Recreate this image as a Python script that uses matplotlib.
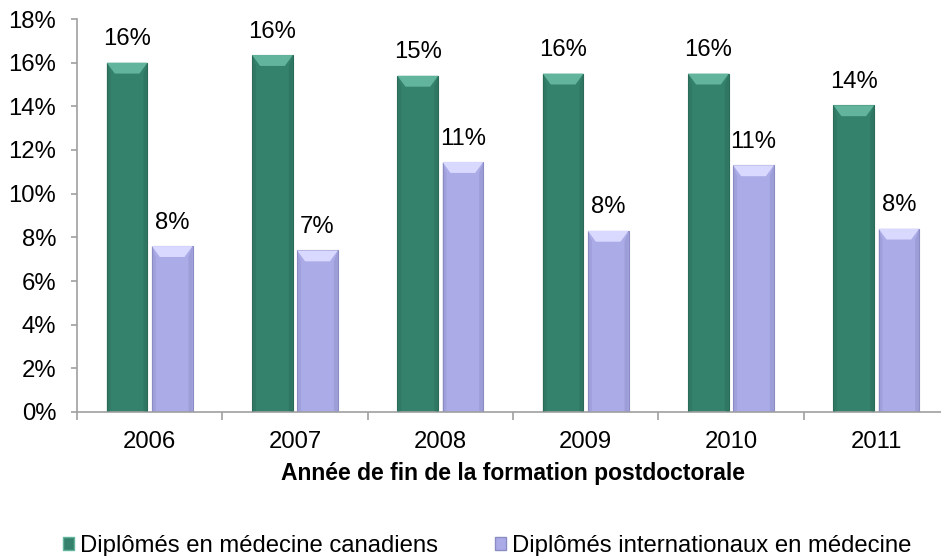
import numpy as np
import matplotlib.pyplot as plt
from matplotlib.patches import Polygon, Patch
from matplotlib.ticker import FuncFormatter

plt.rcParams["font.family"] = ["Liberation Sans", "DejaVu Sans"]

years = ["2006", "2007", "2008", "2009", "2010", "2011"]
canadiens = [16.0, 16.35, 15.4, 15.5, 15.5, 14.05]
internationaux = [7.6, 7.4, 11.45, 8.3, 11.3, 8.4]
series_names = ["Diplômés en médecine canadiens", "Diplômés internationaux en médecine"]

GREEN = "#34826C"
GREEN_TOP = "#62B59C"
GREEN_EDGE = "#2A6B58"
PURPLE = "#ABABE8"
PURPLE_TOP = "#D9D9FF"
PURPLE_EDGE = "#8C8CC4"

FS = 17.2
W = 0.28
OFF = 0.155


def bevel_bars(ax, xs, vals, color, top, edge):
    bars = ax.bar(xs, vals, W, color=color, edgecolor=edge, linewidth=0.8, zorder=2)
    dx = 0.055
    dy = 0.5
    for b in bars:
        x0, x1 = b.get_x(), b.get_x() + b.get_width()
        h = b.get_height()
        # lighter top bevel
        ax.add_patch(Polygon([(x0, h), (x1, h), (x1 - dx, h - dy), (x0 + dx, h - dy)],
                             closed=True, facecolor=top, edgecolor="none", zorder=3))
        # darker side strips
        ax.add_patch(Polygon([(x0, h), (x0 + dx * 0.5, h - dy), (x0 + dx * 0.5, 0.05), (x0, 0)],
                             closed=True, facecolor=edge, alpha=0.35, edgecolor="none", zorder=3))
        ax.add_patch(Polygon([(x1, h), (x1 - dx * 0.5, h - dy), (x1 - dx * 0.5, 0.05), (x1, 0)],
                             closed=True, facecolor=edge, alpha=0.45, edgecolor="none", zorder=3))
    return bars


fig = plt.figure(figsize=(9.41, 5.56), dpi=100)
ax = fig.add_axes([77 / 941, 144 / 556, 872 / 941, 393 / 556])

x = np.arange(len(years))
b1 = bevel_bars(ax, x - OFF, canadiens, GREEN, GREEN_TOP, GREEN_EDGE)
b2 = bevel_bars(ax, x + OFF, internationaux, PURPLE, PURPLE_TOP, PURPLE_EDGE)

for bars, vals in [(b1, canadiens), (b2, internationaux)]:
    for b, v in zip(bars, vals):
        ax.annotate(f"{round(v):.0f}%", (b.get_x() + b.get_width() / 2, v),
                    xytext=(0, 9), textcoords="offset points",
                    ha="center", va="bottom", fontsize=FS, color="black")

ax.set_xlim(-0.5, len(years) - 0.5)
ax.set_ylim(0, 18)
ax.set_yticks(np.arange(0, 19, 2))
ax.yaxis.set_major_formatter(FuncFormatter(lambda v, p: f"{v:.0f}%"))
ax.set_xticks(x)
ax.set_xticklabels(years)
ax.set_xticks(np.arange(-0.5, len(years)), minor=True)

for s in ["top", "right"]:
    ax.spines[s].set_visible(False)
for s in ["left", "bottom"]:
    ax.spines[s].set_color("#A0A0A0")
    ax.spines[s].set_linewidth(1.2)

ax.tick_params(axis="y", direction="out", length=4, width=1.2, color="#A0A0A0",
               pad=11, labelsize=FS)
ax.tick_params(axis="x", which="major", length=0, pad=14, labelsize=FS)
ax.tick_params(axis="x", which="minor", direction="out", length=6, width=1.2, color="#A0A0A0")

ax.set_xlabel("Année de fin de la formation postdoctorale", fontsize=FS - 0.7,
              fontweight="bold", labelpad=6)

handles = [Patch(facecolor=GREEN, edgecolor=GREEN_TOP), Patch(facecolor=PURPLE, edgecolor=PURPLE_EDGE)]
fig.legend(handles, series_names, loc="center", bbox_to_anchor=(487.5 / 941, 10 / 556),
           ncol=2, frameon=False, fontsize=FS, handlelength=0.45, handleheight=0.45,
           handletextpad=0.25, columnspacing=2.4, borderpad=0)

fig.savefig("out.png", dpi=100)
